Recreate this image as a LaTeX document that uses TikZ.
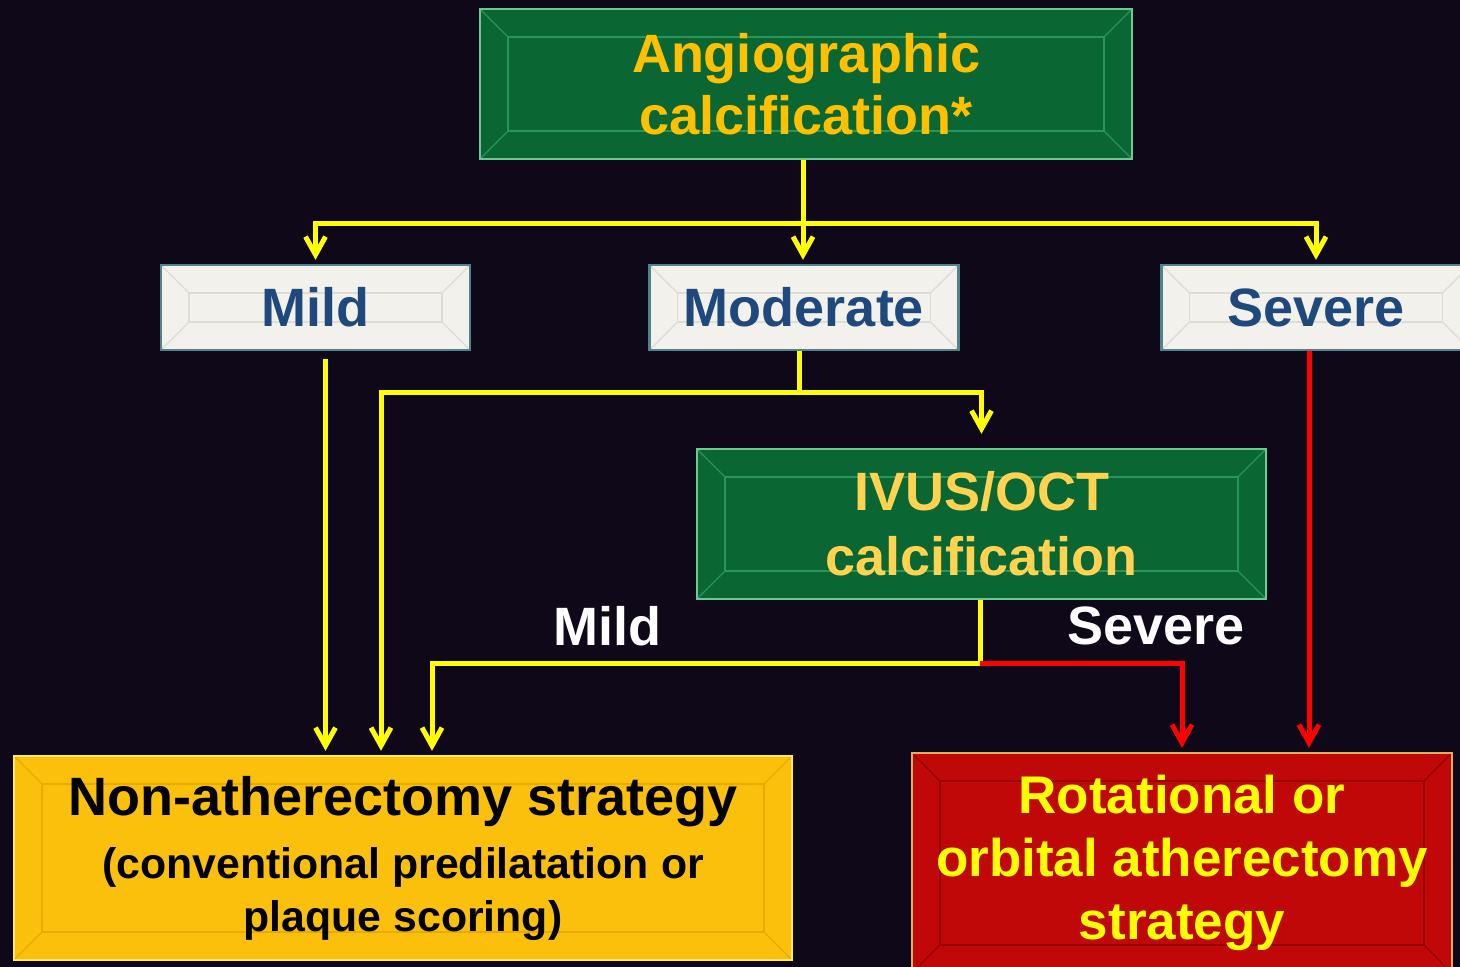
\documentclass[tikz,border=0pt]{standalone}
\usepackage{fontspec}
\setmainfont{Liberation Sans}
\usepackage{tikz}
\usetikzlibrary{arrows.meta,positioning,calc}

\definecolor{bgdark}{RGB}{14,8,24}
\definecolor{boxgreen}{RGB}{10,102,50}
\definecolor{greenrim}{RGB}{110,200,150}
\definecolor{greenbevel}{RGB}{40,150,90}
\definecolor{goldtext}{RGB}{255,192,0}
\definecolor{ivustext}{RGB}{255,210,80}
\definecolor{paleface}{RGB}{242,241,236}
\definecolor{palerim}{RGB}{80,130,140}
\definecolor{palebevel}{RGB}{222,220,212}
\definecolor{navytext}{RGB}{31,73,125}
\definecolor{goldface}{RGB}{251,192,12}
\definecolor{goldrim}{RGB}{255,235,90}
\definecolor{goldbevel}{RGB}{230,170,0}
\definecolor{redface}{RGB}{192,8,8}
\definecolor{redrim}{RGB}{225,175,90}
\definecolor{redbevel}{RGB}{150,0,0}
\definecolor{lineyellow}{RGB}{255,255,0}
\definecolor{linered}{RGB}{255,0,0}

\begin{document}
\begin{tikzpicture}[
    x=0.5pt,y=-0.5pt,
    font=\bfseries,
    bevel/.style={path picture={
        \coordinate (bnw) at (path picture bounding box.north west);
        \coordinate (bse) at (path picture bounding box.south east);
        \coordinate (bne) at (path picture bounding box.north east);
        \coordinate (bsw) at (path picture bounding box.south west);
        \draw[#1, line width=0.8pt]
          ([shift={(14pt,-14pt)}]bnw) rectangle ([shift={(-14pt,14pt)}]bse);
        \draw[#1, line width=0.6pt] (bnw) -- ++(14pt,-14pt);
        \draw[#1, line width=0.6pt] (bne) -- ++(-14pt,-14pt);
        \draw[#1, line width=0.6pt] (bsw) -- ++(14pt,14pt);
        \draw[#1, line width=0.6pt] (bse) -- ++(-14pt,14pt);
      }},
    greenbox/.style={fill=boxgreen, draw=greenrim, line width=1.2pt, bevel=greenbevel, align=center, inner sep=0pt},
    gradebox/.style={fill=paleface, draw=palerim, line width=1.2pt, bevel=palebevel, text=navytext, minimum width=154.5pt, minimum height=42.5pt, font=\fontsize{27}{31}\selectfont\bfseries},
    goldbox/.style={fill=goldface, draw=goldrim, line width=1.2pt, bevel=goldbevel, align=center, inner sep=0pt},
    redbox/.style={fill=redface, draw=redrim, line width=1.2pt, bevel=redbevel, align=center, inner sep=0pt},
    branchlabel/.style={text=white, font=\fontsize{27}{31}\selectfont\bfseries},
    yline/.style={draw=lineyellow, line width=2.5pt},
    yarr/.style={yline, -{Straight Barb[length=9pt,width=10pt]}, shorten >=2pt},
    rline/.style={draw=linered, line width=2.5pt},
    rarr/.style={rline, -{Straight Barb[length=9pt,width=10pt]}, shorten >=2pt}
  ]
    % background
    \fill[bgdark] (0,0) rectangle (1460,967);
    \useasboundingbox (0,0) rectangle (1460,967);

    % top box
    \node[greenbox, text=goldtext, minimum width=326pt, minimum height=75pt,
          font=\fontsize{27}{31}\selectfont\bfseries] (angio) at (806,84) {Angiographic\\calcification*};

    % grades
    \node[gradebox] (mild) at (315.5,307.5) {Mild};
    \node[gradebox] (mod)  at (804,307.5) {Moderate};
    \node[gradebox] (sev)  at (1316,307.5) {Severe};

    % IVUS/OCT
    \node[greenbox, text=ivustext, minimum width=284.5pt, minimum height=75pt,
          font=\fontsize{27}{32.5}\selectfont\bfseries] (ivus) at (981.5,524) {IVUS/OCT\\calcification};

    % strategies
    \node[goldbox, text=black, minimum width=389pt, minimum height=102pt,
          font=\fontsize{21.4}{26.5}\selectfont\bfseries] (nonath) at (403,858)
      {\fontsize{27}{31}\selectfont Non-atherectomy strategy\\[5pt]
       (conventional predilatation or\\plaque scoring)};
    \node[redbox, text=lineyellow, minimum width=270pt, minimum height=110pt,
          font=\fontsize{26.5}{31.5}\selectfont\bfseries] (rot) at (1182,863) {Rotational or\\orbital atherectomy\\strategy};

    % branch labels
    \node[branchlabel] (lblmild) at (607,626) {Mild};
    \node[branchlabel] (lblsev)  at (1156,626) {Severe};

    % angiographic split
    \coordinate (split) at (803,224);
    \draw[yline] (angio.south -| split) -- (split);
    \draw[yarr] (split) -| (mild.north);
    \draw[yarr] (split) -| (sev.north);
    \draw[yarr] (split) -- (split |- mod.north);

    % mild -> non-atherectomy
    \draw[yarr] ([xshift=5pt,yshift=-4pt]mild.south) -- ([xshift=5pt]mild.south |- nonath.north);

    % moderate -> non-atherectomy / IVUS
    \coordinate (modsplit) at (799,393);
    \draw[yline] (mod.south -| modsplit) -- (modsplit);
    \draw[yarr] (modsplit) -| ([xshift=-11pt]nonath.north);
    \draw[yarr, shorten >=7pt] (modsplit) -| (ivus.north);

    % IVUS -> strategies
    \coordinate (ivsplit) at (980,663);
    \draw[yline] (ivus.south -| ivsplit) -- (ivsplit);
    \draw[yarr] (ivsplit) -| ([xshift=14.5pt]nonath.north);
    \draw[rarr] (ivsplit) -| (rot.north);

    % severe -> atherectomy
    \draw[rarr] ([xshift=-3.5pt]sev.south) -- ([xshift=-3.5pt]sev.south |- rot.north);
  \end{tikzpicture}
\end{document}
